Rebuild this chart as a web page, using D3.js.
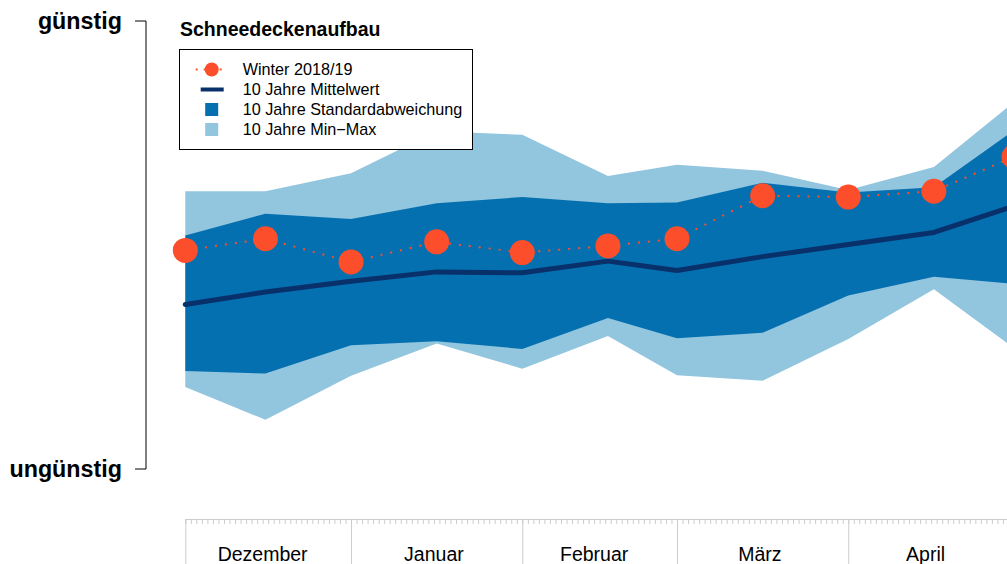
<!DOCTYPE html>
<html>
<head>
<meta charset="utf-8">
<script src="https://cdn.jsdelivr.net/npm/d3@7"></script>
<style>
body { margin: 0; background: #fff; }
svg { display: block; font-family: "Liberation Sans", Arial, sans-serif; }
</style>
</head>
<body>
<svg id="svg" width="1007" height="564"></svg>
<script>
// Messzeitpunkte (Monatsanfang / Monatsmitte)
var dates = ["2018-12-02T00:00Z", "2018-12-16T12:00Z", "2019-01-01T00:00Z", "2019-01-16T12:00Z",
    "2019-02-01T00:00Z", "2019-02-16T12:00Z", "2019-03-01T00:00Z", "2019-03-16T12:00Z",
    "2019-04-01T00:00Z", "2019-04-16T12:00Z", "2019-05-01T00:00Z"];

// Skala 0 = ungünstig, 100 = günstig
var winter = [48.8, 51.4, 46.2, 50.7, 48.3, 49.8, 51.4, 61.0, 60.7, 62.0, 69.7];
var mean = [36.7, 39.5, 41.9, 44.0, 43.8, 46.4, 44.3, 47.4, 50.1, 52.8, 58.7];
var sdUpper = [52.1, 57.0, 55.8, 59.3, 60.7, 59.3, 59.5, 63.9, 61.7, 62.9, 75.6];
var sdLower = [21.9, 21.3, 27.6, 28.5, 26.8, 33.7, 29.2, 30.4, 38.7, 42.9, 41.3];
var maxVals = [62.0, 62.0, 66.0, 75.4, 74.6, 65.4, 67.9, 66.6, 62.3, 67.4, 81.9];
var minVals = [18.3, 11.0, 20.8, 28.0, 22.4, 29.7, 20.9, 19.7, 29.0, 40.1, 27.0];

var monthNames = ["Dezember", "Januar", "Februar", "März", "April"];
var monthLabelDates = ["2018-12-16T00:00Z", "2019-01-16T00:00Z", "2019-02-14T00:00Z", "2019-03-16T00:00Z", "2019-04-15T00:00Z"];
var monthStarts = ["2018-12-02T00:00Z", "2019-01-01T00:00Z", "2019-02-01T00:00Z", "2019-03-01T00:00Z", "2019-04-01T00:00Z", "2019-05-01T00:00Z"];

var legendLabels = ["Winter 2018/19", "10 Jahre Mittelwert", "10 Jahre Standardabweichung", "10 Jahre Min\u2212Max"];

var colPoint = "#fc4e2a";
var colMean = "#08306b";
var colSd = "#0570b0";
var colRange = "#92c5de";
var colAxis = "#cccccc";

var svg = d3.select("#svg");

var data = dates.map(function(d, i) {
    return {
        date: d3.isoParse(d),
        winter: winter[i],
        mean: mean[i],
        sdUpper: sdUpper[i],
        sdLower: sdLower[i],
        max: maxVals[i],
        min: minVals[i]
    };
});

var xScale = d3.scaleUtc()
    .domain([d3.isoParse(dates[0]), d3.isoParse(dates[dates.length - 1])])
    .range([185.3, 1014]);

var yScale = d3.scaleLinear()
    .domain([0, 100])
    .range([469, 21]);

// Bänder
var rangeArea = d3.area()
    .x(function(d) { return xScale(d.date); })
    .y0(function(d) { return yScale(d.min); })
    .y1(function(d) { return yScale(d.max); });

var sdArea = d3.area()
    .x(function(d) { return xScale(d.date); })
    .y0(function(d) { return yScale(d.sdLower); })
    .y1(function(d) { return yScale(d.sdUpper); });

svg.append("path")
    .datum(data)
    .attr("d", rangeArea)
    .attr("fill", colRange);

svg.append("path")
    .datum(data)
    .attr("d", sdArea)
    .attr("fill", colSd);

var meanLine = d3.line()
    .x(function(d) { return xScale(d.date); })
    .y(function(d) { return yScale(d.mean); });

svg.append("path")
    .datum(data)
    .attr("d", meanLine)
    .attr("fill", "none")
    .attr("stroke", colMean)
    .attr("stroke-width", 5)
    .attr("stroke-linecap", "round")
    .attr("stroke-linejoin", "round");

var winterLine = d3.line()
    .x(function(d) { return xScale(d.date); })
    .y(function(d) { return yScale(d.winter); });

svg.append("path")
    .datum(data)
    .attr("d", winterLine)
    .attr("fill", "none")
    .attr("stroke", colPoint)
    .attr("stroke-width", 2)
    .attr("stroke-dasharray", "2,8");

svg.selectAll("circle.winter")
    .data(data)
    .enter()
    .append("circle")
    .attr("class", "winter")
    .attr("cx", function(d) { return xScale(d.date); })
    .attr("cy", function(d) { return yScale(d.winter); })
    .attr("r", 12.5)
    .attr("fill", colPoint);

// x-Achse: Tage + Monatsgrenzen
var axisY = 519;
var days = d3.utcDay.range(xScale.domain()[0], d3.utcDay.offset(xScale.domain()[1], 1));

var dayAxis = d3.axisBottom(xScale)
    .tickValues(days)
    .tickSize(5)
    .tickSizeOuter(0)
    .tickFormat("");

svg.append("g")
    .attr("transform", "translate(0," + axisY + ")")
    .call(dayAxis);

var monthAxis = d3.axisBottom(xScale)
    .tickValues(monthStarts.map(d3.isoParse))
    .tickSize(50)
    .tickSizeOuter(0)
    .tickFormat("");

svg.append("g")
    .attr("transform", "translate(0," + axisY + ")")
    .call(monthAxis);

svg.selectAll(".domain, .tick line")
    .attr("stroke", colAxis);

svg.selectAll("text.month")
    .data(monthNames)
    .enter()
    .append("text")
    .attr("class", "month")
    .attr("x", function(d, i) { return xScale(d3.isoParse(monthLabelDates[i])); })
    .attr("y", 561)
    .attr("text-anchor", "middle")
    .attr("font-size", "19.5px")
    .attr("fill", "#000")
    .text(function(d) { return d; });

// y-Klammer günstig / ungünstig
var bx = 146;
svg.append("path")
    .attr("d", "M" + (bx - 11) + "," + yScale(100) + "H" + bx + "V" + yScale(0) + "H" + (bx - 11))
    .attr("fill", "none")
    .attr("stroke", "#000")
    .attr("stroke-width", 1);

svg.append("text")
    .attr("x", 122)
    .attr("y", yScale(100) + 8)
    .attr("text-anchor", "end")
    .attr("font-size", "23.3px")
    .attr("font-weight", "bold")
    .text("günstig");

svg.append("text")
    .attr("x", 122)
    .attr("y", yScale(0) + 8)
    .attr("text-anchor", "end")
    .attr("font-size", "23.3px")
    .attr("font-weight", "bold")
    .text("ungünstig");

// Titel
svg.append("text")
    .attr("x", 180)
    .attr("y", 36)
    .attr("font-size", "19.5px")
    .attr("font-weight", "bold")
    .text("Schneedeckenaufbau");

// Legende
var legend = svg.append("g");
legend.append("rect")
    .attr("x", 179.5)
    .attr("y", 49.5)
    .attr("width", 293)
    .attr("height", 100)
    .attr("fill", "#fff")
    .attr("stroke", "#000")
    .attr("stroke-width", 1);

var rowY = [69.5, 89.5, 109.5, 129.5];
var symX = 211.7;

legend.append("line")
    .attr("x1", symX - 16).attr("x2", symX + 16)
    .attr("y1", rowY[0]).attr("y2", rowY[0])
    .attr("stroke", colPoint)
    .attr("stroke-width", 2)
    .attr("stroke-dasharray", "2,6");
legend.append("circle")
    .attr("cx", symX).attr("cy", rowY[0]).attr("r", 7)
    .attr("fill", colPoint);

legend.append("line")
    .attr("x1", symX - 11).attr("x2", symX + 12)
    .attr("y1", rowY[1]).attr("y2", rowY[1])
    .attr("stroke", colMean)
    .attr("stroke-width", 4);

legend.append("rect")
    .attr("x", symX - 6.5).attr("y", rowY[2] - 6.5)
    .attr("width", 13).attr("height", 13)
    .attr("fill", colSd);

legend.append("rect")
    .attr("x", symX - 6.5).attr("y", rowY[3] - 6.5)
    .attr("width", 13).attr("height", 13)
    .attr("fill", colRange);

legend.selectAll("text")
    .data(legendLabels)
    .enter()
    .append("text")
    .attr("x", 242.7)
    .attr("y", function(d, i) { return rowY[i] + 5.6; })
    .attr("font-size", "16.2px")
    .text(function(d) { return d; });
</script>
</body>
</html>
